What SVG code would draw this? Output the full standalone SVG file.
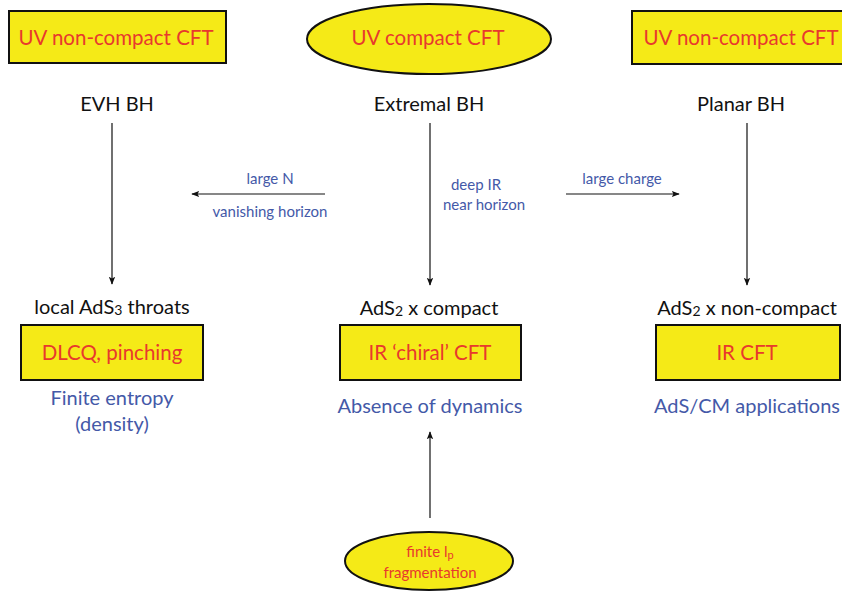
<svg xmlns="http://www.w3.org/2000/svg" width="842" height="597" viewBox="0 0 842 597">
<style>
text{font-family:Lato,"Liberation Sans",sans-serif;text-anchor:middle}
.box{fill:#F5EA17;stroke:#111;stroke-width:2}
.red{fill:#E8392D;font-size:20.5px}
.blk{fill:#111;font-size:20px}
.blu{fill:#4459A8;font-size:20px}
.lbl{fill:#4459A8;font-size:15px}
.con{stroke:#111;stroke-width:1.2;fill:none;marker-end:url(#ah)}
</style>
<defs>
<marker id="ah" viewBox="0 0 10 10" refX="9" refY="5" markerWidth="8" markerHeight="8" markerUnits="userSpaceOnUse" orient="auto">
<path d="M0,1 L10,5 L0,9 L2,5 Z" fill="#111"/>
</marker>
</defs>
<rect width="842" height="597" fill="#fff"/>
<g id="uv-left">
<rect class="box" x="9" y="11" width="217" height="52"/>
<text class="red" x="116" y="45">UV non-compact CFT</text>
</g>
<g id="uv-center">
<ellipse class="box" cx="429" cy="39" rx="122" ry="35"/>
<text class="red" x="428" y="45">UV compact CFT</text>
</g>
<g id="uv-right">
<rect class="box" x="632" y="11" width="216" height="53"/>
<text class="red" x="741" y="45">UV non-compact CFT</text>
</g>
<g id="evh"><text class="blk" x="117" y="111">EVH BH</text></g>
<g id="extremal"><text class="blk" x="429" y="111">Extremal BH</text></g>
<g id="planar"><text class="blk" x="741" y="111">Planar BH</text></g>
<g id="left-ir">
<text class="blk" x="112" y="314">local AdS<tspan font-size="14" dy="1">3</tspan><tspan dy="-1"> throats</tspan></text>
<rect class="box" x="21" y="325" width="182" height="55"/>
<text class="red" x="112" y="360">DLCQ, pinching</text>
<text class="blu" x="112" y="405">Finite entropy</text>
<text class="blu" x="112" y="431">(density)</text>
</g>
<g id="center-ir">
<text class="blk" x="429" y="315">AdS<tspan font-size="14" dy="1">2</tspan><tspan dy="-1"> x compact</tspan></text>
<rect class="box" x="340" y="325" width="181" height="55"/>
<text class="red" x="430" y="360">IR ‘chiral’ CFT</text>
<text class="blu" x="430" y="413">Absence of dynamics</text>
</g>
<g id="right-ir">
<text class="blk" x="747" y="315">AdS<tspan font-size="14" dy="1">2</tspan><tspan dy="-1"> x non-compact</tspan></text>
<rect class="box" x="656" y="325" width="184" height="55"/>
<text class="red" x="747" y="360">IR CFT</text>
<text class="blu" x="747" y="413">AdS/CM applications</text>
</g>
<g id="finite-lp">
<ellipse class="box" cx="429" cy="561" rx="84" ry="29"/>
<text class="red" style="font-size:15px" x="430" y="557">finite l<tspan font-size="11" dy="2">p</tspan></text>
<text class="red" style="font-size:15px" x="430" y="578">fragmentation</text>
</g>
<g id="connectors">
<line class="con" x1="112" y1="123" x2="112" y2="284"/>
<line class="con" x1="430" y1="123" x2="430" y2="285"/>
<line class="con" x1="747" y1="123" x2="747" y2="285"/>
<line class="con" x1="325" y1="194" x2="192" y2="194"/>
<line class="con" x1="566" y1="194" x2="679" y2="194"/>
<line class="con" x1="430" y1="518" x2="430" y2="432"/>
<text class="lbl" x="270" y="184">large N</text>
<text class="lbl" x="270" y="217">vanishing horizon</text>
<text class="lbl" x="622" y="184">large charge</text>
<text class="lbl" x="476" y="190">deep IR</text>
<text class="lbl" x="484" y="210">near horizon</text>
</g>
</svg>
